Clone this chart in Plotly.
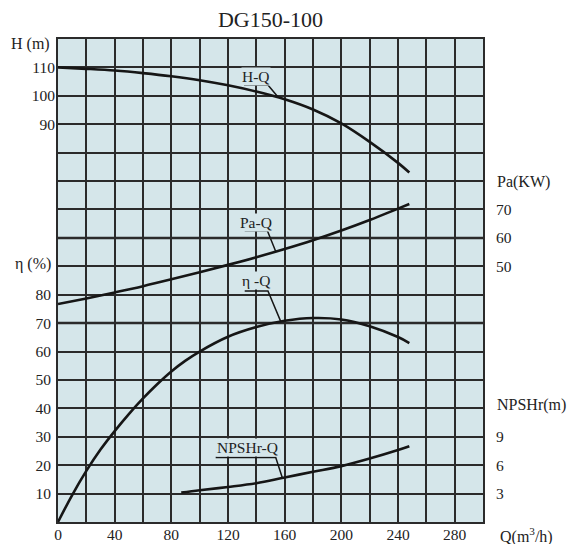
import plotly.graph_objects as go

# ---------------- data ----------------
Q_H = [0, 20, 40, 60, 80, 100, 120, 140, 160, 180, 200, 220, 240, 248]
H_m = [110, 109.5, 108.9, 108.0, 106.9, 105.5, 103.7, 101.5, 98.8, 95.2, 90.3, 83.8, 76.4, 73.0]

Q_PA = [0, 20, 40, 60, 80, 100, 120, 140, 160, 180, 200, 220, 240, 248]
PA_kw = [36.7, 38.7, 40.8, 43.0, 45.4, 47.9, 50.5, 53.2, 56.1, 59.2, 62.6, 66.3, 70.3, 71.9]

Q_ETA = [0, 10, 20, 30, 40, 50, 60, 70, 80, 90, 100, 120, 140, 160, 180, 200, 220, 240, 248]
ETA_pct = [0, 9.5, 18, 25.5, 32, 38, 43.5, 48.5, 53, 56.8, 60, 65.2, 68.6, 70.8, 71.8, 71.3, 68.9, 65.1, 63]

Q_NPSH = [87, 100, 120, 140, 160, 180, 200, 220, 240, 248]
NPSHR_m = [3.1, 3.35, 3.7, 4.1, 4.7, 5.3, 5.9, 6.7, 7.6, 8.0]

Q_TICKS = [0, 40, 80, 120, 160, 200, 240, 280]
ETA_TICKS = [10, 20, 30, 40, 50, 60, 70, 80]
H_TICKS = [90, 100, 110]
PA_TICKS = [50, 60, 70]
NPSH_TICKS = [3, 6, 9]

TITLE = "DG150-100"

# ---------------- styling ----------------
BG = "#d5e6ea"
GRID = "#2b2b2b"
CURVE = "#161616"
TXT = "#222222"
FONT = "Liberation Serif, Times New Roman, serif"
TICKFONT = dict(family=FONT, size=15.5, color=TXT)

# page body has an 8px default margin; figure is sized to fit the 577x544 window
W, HGT = 569, 536

fig = go.Figure()

def curve(x, y, axis):
    fig.add_trace(go.Scatter(
        x=x, y=y, yaxis=axis, mode="lines",
        line=dict(color=CURVE, width=2.6, shape="spline", smoothing=1.0),
        hoverinfo="skip", showlegend=False))

curve(Q_H, H_m, "y2")
curve(Q_PA, PA_kw, "y3")
curve(Q_ETA, ETA_pct, "y")
curve(Q_NPSH, NPSHR_m, "y4")

grid_common = dict(showgrid=True, gridcolor=GRID, gridwidth=2)

fig.update_layout(
    width=W, height=HGT,
    margin=dict(l=50, r=94, t=31, b=22, autoexpand=False),
    paper_bgcolor="white", plot_bgcolor=BG,
    font=dict(family=FONT, size=15, color=TXT),
    showlegend=False,
    title=dict(text=TITLE, x=0.5, xref="paper", xanchor="center",
               y=1 - 11 / HGT, yanchor="middle",
               font=dict(family=FONT, size=22, color=TXT)),
    xaxis=dict(range=[0, 300], tickmode="array", tickvals=Q_TICKS, automargin=False,
               ticks="", tickfont=TICKFONT, zeroline=False, ticklabelstandoff=-3,
               showline=True, mirror=True, linecolor=GRID, linewidth=2,
               minor=dict(tickmode="linear", tick0=0, dtick=20, **grid_common),
               **grid_common),
    yaxis=dict(range=[0, 170], tickmode="array", tickvals=ETA_TICKS, automargin=False,
               ticks="", tickfont=TICKFONT, zeroline=False,
               showline=True, mirror=True, linecolor=GRID, linewidth=2,
               minor=dict(tickmode="linear", tick0=0, dtick=10, **grid_common),
               ticklabelstandoff=2,
               **grid_common),
    yaxis2=dict(range=[-50, 120], overlaying="y", side="left", anchor="x", automargin=False,
                tickmode="array", tickvals=H_TICKS, ticks="", tickfont=TICKFONT,
                showgrid=False, zeroline=False, ticklabelstandoff=2),
    yaxis3=dict(range=[-40, 130], overlaying="y", side="right", anchor="x", automargin=False,
                tickmode="array", tickvals=PA_TICKS, ticks="", tickfont=TICKFONT,
                showgrid=False, zeroline=False, ticklabelstandoff=12),
    yaxis4=dict(range=[0, 51], overlaying="y", side="right", anchor="x", automargin=False,
                tickmode="array", tickvals=NPSH_TICKS, ticks="", tickfont=TICKFONT,
                showgrid=False, zeroline=False, ticklabelstandoff=12),
)

# slightly heavier grid lines seen in the reference
for yv in [70, 100]:
    fig.add_shape(type="line", xref="x", yref="y", x0=0, x1=300, y0=yv, y1=yv,
                  line=dict(color=GRID, width=2.5), layer="below")

# axis titles
afont = dict(family=FONT, size=16, color=TXT)
fig.add_annotation(text="H (m)", xref="paper", yref="paper", x=-6 / 425, y=(521.7 - 44) / 482.7,
                   xanchor="right", yanchor="middle", showarrow=False, font=afont)
fig.add_annotation(text="η (%)", xref="paper", yref="paper", x=-5 / 425, y=(521.7 - 264) / 482.7,
                   xanchor="right", yanchor="middle", showarrow=False, font=afont)
fig.add_annotation(text="Pa(KW)", xref="paper", yref="paper", x=1 + 12 / 425, y=(521.7 - 181.5) / 482.7,
                   xanchor="left", yanchor="middle", showarrow=False, font=afont)
fig.add_annotation(text="NPSHr(m)", xref="paper", yref="paper", x=1 + 12 / 425, y=(521.7 - 405) / 482.7,
                   xanchor="left", yanchor="middle", showarrow=False, font=afont)
fig.add_annotation(text="Q(m<sup>3</sup>/h)", xref="paper", yref="paper", x=1 + 15 / 425, y=-13 / 482.7,
                   xanchor="left", yanchor="middle", showarrow=False, font=afont)

# curve labels with leader lines
lfont = dict(family=FONT, size=15.5, color=TXT)
labels = [
    # text, axis, text x, text y, underline x0, x1, y, end x, end y
    ("H-Q", "y2", 140, 106.7, 131.3, 148.2, 103.8, 155.3, 99.6),
    ("Pa-Q", "y3", 140, 65.4, 131.8, 147.8, 62.5, 153.7, 55.2),
    ("η -Q", "y", 140, 85.1, 131.8, 148.2, 81.3, 157.2, 70.6),
    ("NPSHr-Q", "y4", 133.5, 7.9, 111.3, 153.7, 6.8, 158.4, 4.65),
]
for text, ax, tx, ty, ux0, ux1, uy, ex, ey in labels:
    fig.add_annotation(text=text, xref="x", yref=ax, x=tx, y=ty, showarrow=False,
                       xanchor="center", yanchor="middle", font=lfont,
                       bgcolor=BG, borderpad=0)
    fig.add_shape(type="path", xref="x", yref=ax,
                  path=f"M {ux0},{uy} L {ux1},{uy} L {ex},{ey}",
                  line=dict(color=CURVE, width=1.5))

fig.write_html("out.html")
